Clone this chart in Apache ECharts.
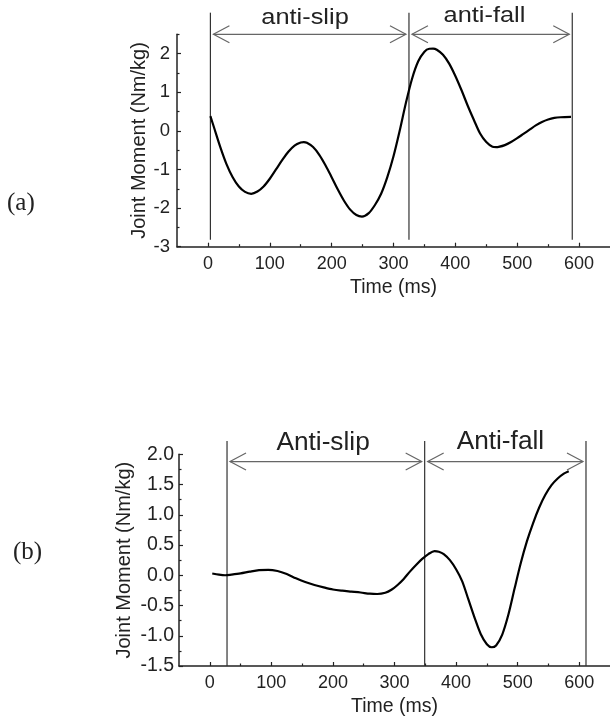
<!DOCTYPE html>
<html><head><meta charset="utf-8">
<script src="https://cdn.jsdelivr.net/npm/echarts@6/dist/echarts.min.js"></script>
<style>html,body{margin:0;padding:0;background:#fff}#c{width:610px;height:718px}</style>
</head><body><div id="c"></div>
<script>
// ---- data ----
const xMajorTicks = [0, 100, 200, 300, 400, 500, 600];
const xMinorTicks = [50, 150, 250, 350, 450, 550];
const aYMajor = [-3, -2, -1, 0, 1, 2];
const aYMinor = [-2.5, -1.5, -0.5, 0.5, 1.5, 2.5];
const bYMajor = [-1.5, -1.0, -0.5, 0, 0.5, 1.0, 1.5, 2.0];
const bYMinor = [-1.25, -0.75, -0.25, 0.25, 0.75, 1.25, 1.75];

const aTime = [4,10,20,30,40,50,60,70,80,90,100,110,120,130,140,150,155,160,170,180,190,200,210,220,230,240,249,260,270,280,290,300,310,320,330,340,350,358,364,370,380,390,400,410,420,430,440,450,460,466,470,480,490,500,510,520,530,540,550,560,570,587];
const aMoment = [0.38,0.08,-0.42,-0.86,-1.2,-1.44,-1.58,-1.63,-1.57,-1.44,-1.24,-1.0,-0.76,-0.54,-0.38,-0.3,-0.29,-0.31,-0.42,-0.62,-0.89,-1.2,-1.52,-1.81,-2.04,-2.18,-2.22,-2.13,-1.92,-1.63,-1.2,-0.66,0.0,0.72,1.35,1.8,2.05,2.125,2.13,2.1,1.97,1.74,1.42,1.05,0.65,0.28,-0.07,-0.29,-0.41,-0.42,-0.415,-0.37,-0.29,-0.19,-0.08,0.03,0.14,0.23,0.295,0.335,0.352,0.36];

const bTime = [4,15,25,35,50,65,80,95,110,125,140,155,170,185,200,215,230,245,260,272,285,295,305,315,325,335,345,355,365,372,380,390,400,410,420,430,440,450,458,465,475,485,495,505,515,525,535,545,555,565,575,583];
const bMoment = [0.03,0.01,0.0,0.01,0.03,0.06,0.085,0.09,0.07,0.02,-0.05,-0.11,-0.16,-0.2,-0.235,-0.255,-0.27,-0.285,-0.305,-0.31,-0.29,-0.24,-0.16,-0.06,0.06,0.17,0.27,0.35,0.4,0.39,0.35,0.25,0.1,-0.1,-0.4,-0.7,-0.97,-1.14,-1.19,-1.16,-0.98,-0.65,-0.22,0.2,0.56,0.86,1.12,1.33,1.49,1.6,1.68,1.72];

const aBounds = [4, 325, 589];
const bBounds = [28, 349, 611];
const aPhaseNames = ['anti-slip', 'anti-fall'];
const bPhaseNames = ['Anti-slip', 'Anti-fall'];
const aLabelX = [157, 447];
const bLabelX = [184, 472];
const aLabelY = [2.93, 2.98];
const bLabelY = [2.18, 2.2];
const aArrowY = 2.5;
const bArrowY = 1.88;
const aLineRange = [-2.82, 3.06];
const bLineRange = [-1.5, 2.22];

// ---- styles ----
const FONT = "'Liberation Sans', Arial, sans-serif";
const SERIF = "'Liberation Serif', 'Times New Roman', serif";
const AX = '#222';

function xAxes(grid) {
  return [{
    type: 'value', gridIndex: grid, min: -50, max: 650, interval: 50,
    axisLine: { show: true, onZero: false, lineStyle: { color: AX, width: 1.5 } },
    axisTick: { show: true, inside: true, length: 4, customValues: xMajorTicks, lineStyle: { color: AX, width: 1.2 } },
    axisLabel: { customValues: xMajorTicks, fontSize: 18, color: AX, margin: 8, fontFamily: FONT },
    splitLine: { show: false },
    name: 'Time (ms)', nameLocation: 'middle', nameGap: 31, nameMoveOverlap: false,
    nameTextStyle: { fontSize: 19.5, color: AX, fontFamily: FONT }
  }, {
    type: 'value', gridIndex: grid, position: 'bottom', min: -50, max: 650, interval: 50,
    axisLine: { show: false, onZero: false },
    axisTick: { show: true, inside: true, length: 2.5, customValues: xMinorTicks, lineStyle: { color: AX, width: 1.2 } },
    axisLabel: { show: false }, splitLine: { show: false }
  }];
}
function yAxes(grid, min, max, major, minor, fmt, nameGap, margin, labelSize) {
  return [{
    type: 'value', gridIndex: grid, min: min, max: max, interval: 0.25,
    axisLine: { show: true, onZero: false, lineStyle: { color: AX, width: 1.5 } },
    axisTick: { show: true, inside: true, length: 4, customValues: major, lineStyle: { color: AX, width: 1.2 } },
    axisLabel: { customValues: major, fontSize: labelSize, color: AX, margin: margin, fontFamily: FONT, formatter: fmt },
    splitLine: { show: false },
    name: 'Joint Moment (Nm/kg)', nameLocation: 'middle', nameGap: nameGap, nameMoveOverlap: false,
    nameTextStyle: { fontSize: 20, color: AX, fontFamily: FONT }
  }, {
    type: 'value', gridIndex: grid, position: 'left', min: min, max: max, interval: 0.25,
    axisLine: { show: false, onZero: false },
    axisTick: { show: true, inside: true, length: 2.5, customValues: minor, lineStyle: { color: AX, width: 1.2 } },
    axisLabel: { show: false }, splitLine: { show: false }
  }];
}

function boundarySeries(xi, yi, bounds, range) {
  return {
    type: 'custom', xAxisIndex: xi, yAxisIndex: yi, clip: false, silent: true,
    data: bounds.map(b => [b, range[0], range[1]]),
    renderItem: function (params, api) {
      const p0 = api.coord([api.value(0), api.value(1)]);
      const p1 = api.coord([api.value(0), api.value(2)]);
      return { type: 'line', shape: { x1: p0[0], y1: p0[1], x2: p1[0], y2: p1[1] },
        style: { stroke: '#333', lineWidth: 1.2 } };
    }
  };
}
function phaseSeries(xi, yi, bounds, arrowY, names, labelX, labelY, fontSize, scaleX) {
  const data = names.map((n, i) => [bounds[i], bounds[i + 1], labelX[i], labelY[i]]);
  return {
    type: 'custom', xAxisIndex: xi, yAxisIndex: yi, clip: false, silent: true,
    data: data,
    renderItem: function (params, api) {
      const i = params.dataIndex;
      const inset = 3, hl = 16, hh = 8.5;
      const ps = api.coord([api.value(0), arrowY]);
      const pe = api.coord([api.value(1), arrowY]);
      const pl = api.coord([api.value(2), api.value(3)]);
      const x1 = ps[0] + inset, x2 = pe[0] - inset, y = ps[1];
      const st = { stroke: '#666', lineWidth: 1.2, fill: null };
      return { type: 'group', children: [
        { type: 'line', shape: { x1: x1, y1: y, x2: x2, y2: y }, style: st },
        { type: 'polyline', shape: { points: [[x1 + hl, y - hh], [x1, y], [x1 + hl, y + hh]] }, style: st },
        { type: 'polyline', shape: { points: [[x2 - hl, y - hh], [x2, y], [x2 - hl, y + hh]] }, style: st },
        { type: 'text', x: pl[0], y: pl[1], scaleX: scaleX,
          style: { text: names[i], fontSize: fontSize, fontFamily: FONT, fill: '#222', align: 'center', verticalAlign: 'middle' } }
      ] };
    }
  };
}

const chart = echarts.init(document.getElementById('c'), null, { renderer: 'canvas' });
chart.setOption({
  animation: false,
  backgroundColor: '#fff',
  grid: [
    { left: 177, top: 34.3, width: 435, height: 212.4 },
    { left: 179, top: 454.3, width: 436.3, height: 211.7 }
  ],
  xAxis: [].concat(xAxes(0), xAxes(1)),
  yAxis: [].concat(
    yAxes(0, -3, 2.5, aYMajor, aYMinor, v => String(v), 28, 7, 18.5),
    yAxes(1, -1.5, 2.0, bYMajor, bYMinor, v => v.toFixed(1), 45, 5, 19.5)
  ),
  graphic: [
    { type: 'text', left: 7, top: 191, style: { text: '(a)', fontSize: 25, fontFamily: SERIF, fill: '#222' } },
    { type: 'text', left: 13, top: 540, style: { text: '(b)', fontSize: 25, fontFamily: SERIF, fill: '#222' } }
  ],
  series: [
    { type: 'line', xAxisIndex: 0, yAxisIndex: 0, data: aTime.map((t, i) => [t, aMoment[i]]),
      smooth: 0.3, showSymbol: false, clip: false, lineStyle: { color: '#000', width: 2.2 } },
    { type: 'line', xAxisIndex: 2, yAxisIndex: 2, data: bTime.map((t, i) => [t, bMoment[i]]),
      smooth: 0.3, showSymbol: false, clip: false, lineStyle: { color: '#000', width: 2.2 } },
    boundarySeries(0, 0, aBounds, aLineRange),
    boundarySeries(2, 2, bBounds, bLineRange),
    phaseSeries(0, 0, aBounds, aArrowY, aPhaseNames, aLabelX, aLabelY, 21.5, 1.18),
    phaseSeries(2, 2, bBounds, bArrowY, bPhaseNames, bLabelX, bLabelY, 25, 1.05)
  ]
});
</script></body></html>
